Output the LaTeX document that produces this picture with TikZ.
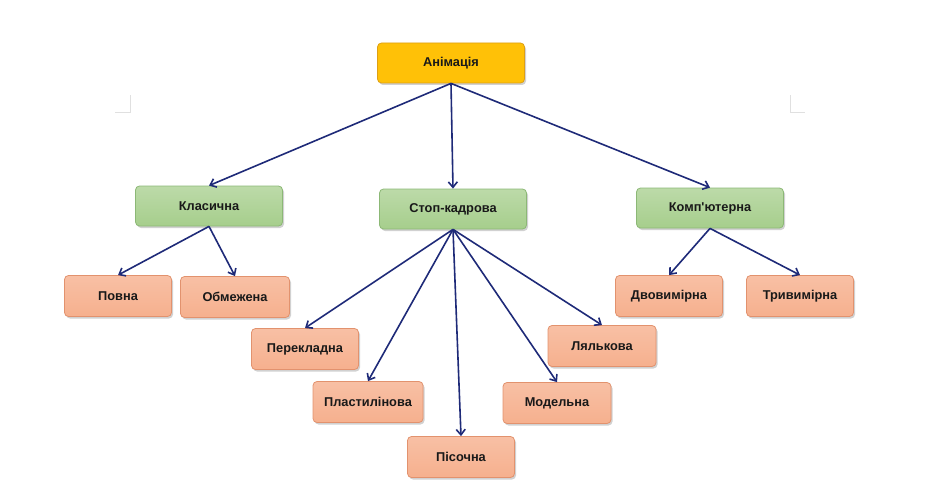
\documentclass[tikz,border=0pt]{standalone}
\usepackage{fontspec}
\setmainfont{Liberation Sans}
\usepackage{xcolor}
\usepackage{tikz}
\definecolor{rootgold}{RGB}{255,193,7}
\definecolor{rootedge}{RGB}{222,160,20}
\definecolor{groupgreen}{RGB}{166,206,140}
\definecolor{groupedge}{RGB}{140,184,118}
\definecolor{leafpeach}{RGB}{246,176,142}
\definecolor{leafedge}{RGB}{226,146,110}
\definecolor{arrownavy}{RGB}{30,42,120}
\usetikzlibrary{shapes,arrows.meta,positioning,shadows,calc}

\begin{document}
\begin{tikzpicture}[
    x=1pt, y=-1pt,
    font=\fontsize{12.8}{15}\selectfont\bfseries,
    box/.style={rectangle, rounded corners=4pt, text centered, text=black!90, line width=0.8pt,
        drop shadow={opacity=0.3, fill=black!60, shadow xshift=1.5pt, shadow yshift=-2pt}},
    rootbox/.style={box, minimum width=147pt, minimum height=40pt, draw=rootedge, fill=rootgold},
    groupbox/.style={box, minimum width=147pt, minimum height=40pt, draw=groupedge,
        top color=groupgreen!75!white, bottom color=groupgreen},
    leafbox/.style={box, minimum width=107pt, minimum height=41pt, draw=leafedge,
        top color=leafpeach!80!white, bottom color=leafpeach},
    arrow/.style={-{Straight Barb[length=5.5pt,width=9pt]}, draw=arrownavy, line width=1.6pt},
    cornermark/.style={draw=black!12, line width=1pt}
]
\useasboundingbox (0,0) rectangle (940,484);

% page corner marks
\draw[cornermark] (130,95) -- (130,113) -- (115,113);
\draw[cornermark] (790,95) -- (790,113) -- (805,113);

\node[rootbox] (anim) at (451,63) {Анімація};

\node[groupbox] (klas) at (209,206) {Класична};
\node[groupbox] (stop) at (453,209) {Стоп-кадрова};
\node[groupbox] (komp) at (710,208) {Комп\textquotesingle ютерна};

\node[leafbox] (povna) at (118,296) {Повна};
\node[leafbox, minimum width=109pt] (obmez) at (235,297) {Обмежена};
\node[leafbox] (dvo) at (669,296) {Двовимірна};
\node[leafbox] (tryv) at (800,296) {Тривимірна};

\node[leafbox] (perek) at (305,349) {Перекладна};
\node[leafbox, minimum width=110pt] (plast) at (368,402) {Пластилінова};
\node[leafbox] (pisok) at (461,457) {Пісочна};
\node[leafbox, minimum width=108pt] (model) at (557,403) {Модельна};
\node[leafbox, minimum width=108pt] (lyal) at (602,346) {Лялькова};

\draw[arrow] (anim.south) -- (klas.north);
\draw[arrow] (anim.south) -- (stop.north);
\draw[arrow] (anim.south) -- (komp.north);

\draw[arrow] (klas.south) -- (povna.north);
\draw[arrow] (klas.south) -- (obmez.north);
\draw[arrow] (komp.south) -- (dvo.north);
\draw[arrow] (komp.south) -- (tryv.north);

\draw[arrow] (stop.south) -- (perek.north);
\draw[arrow] (stop.south) -- (plast.north);
\draw[arrow] (stop.south) -- (pisok.north);
\draw[arrow] (stop.south) -- (model.north);
\draw[arrow] (stop.south) -- (lyal.north);

\end{tikzpicture}
\end{document}
